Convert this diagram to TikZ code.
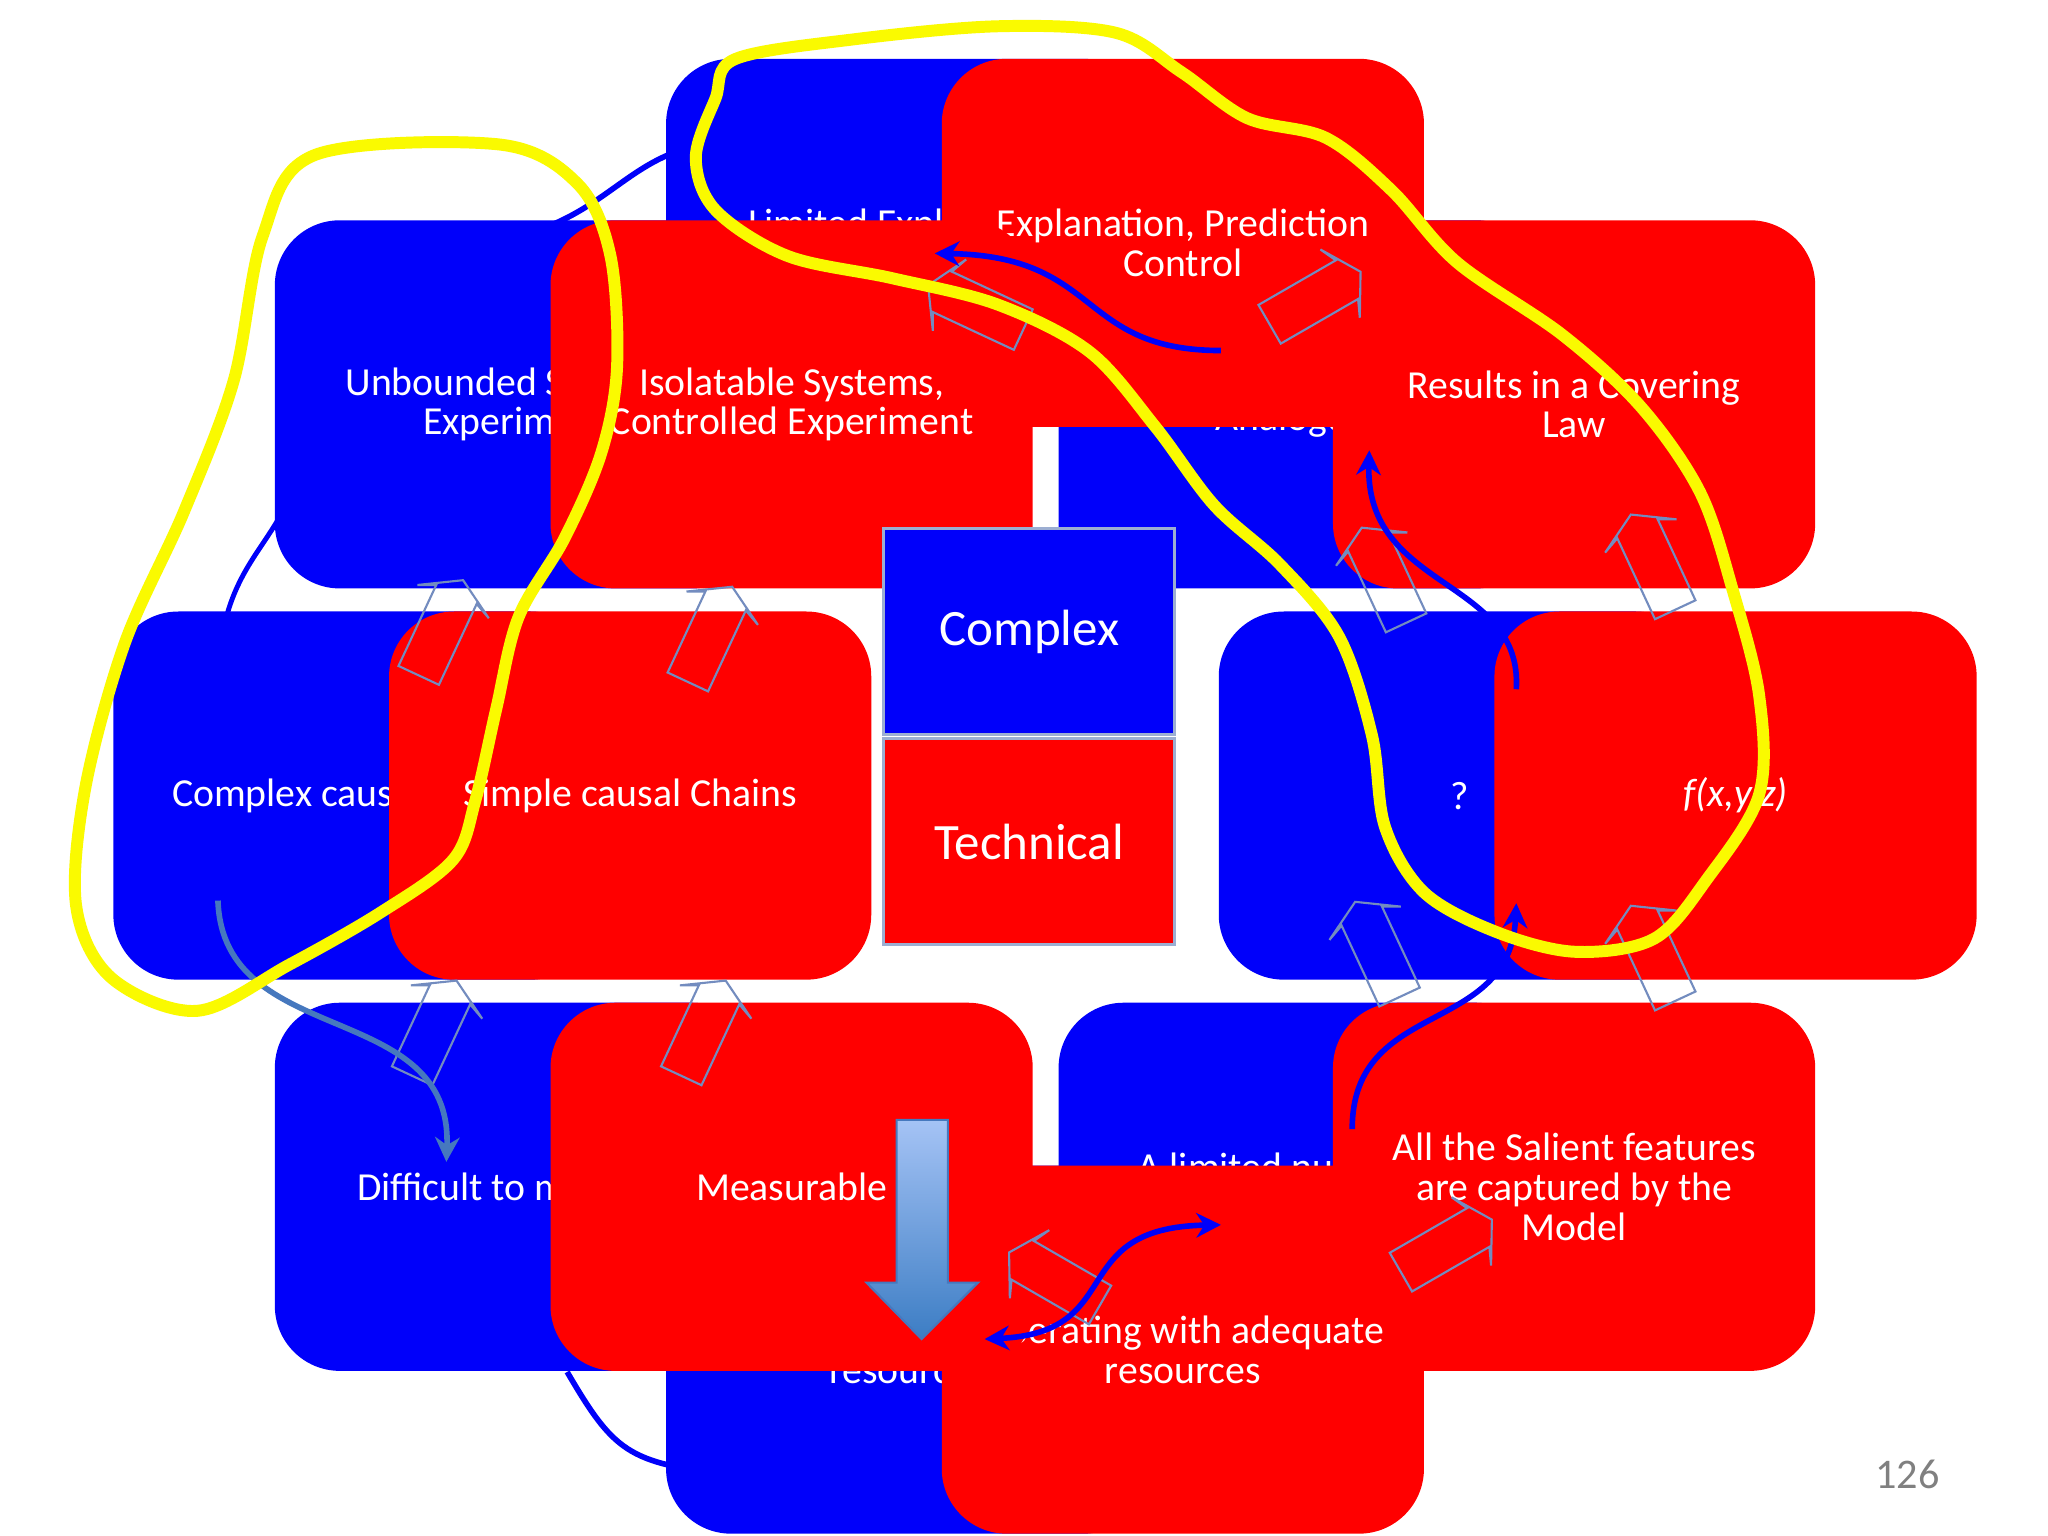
\documentclass[tikz,border=0pt]{standalone}
\usepackage{fontspec}
\setmainfont{Carlito}
\usetikzlibrary{arrows.meta}
\definecolor{bx}{RGB}{0,0,250}
\definecolor{rx}{RGB}{255,0,0}
\definecolor{ol}{RGB}{90,120,180}
\definecolor{yl}{RGB}{250,250,0}
\tikzset{
 box/.style={minimum width=4.82cm,minimum height=3.68cm,rounded corners=0.65cm,text=white,align=center,font=\fontsize{11.3}{11.3}\selectfont,inner sep=0pt},
 bbox/.style={box,fill=bx},
 rbox/.style={box,fill=rx},
 txt/.style={text=white,align=center,font=\fontsize{11.3}{11.3}\selectfont,inner sep=0pt},
 sq/.style={minimum width=2.91cm,minimum height=2.06cm,draw=ol!60,line width=0.8pt,text=white,font=\fontsize{14.5}{16}\selectfont,inner sep=0pt},
 con/.style={draw=bx,line width=1.6pt,-{Stealth[length=7pt,width=7pt]}},
 outl/.style={draw=ol!85,line width=0.6pt},
 loop/.style={draw=yl,line width=3.4pt,line join=round},
}
\begin{document}
\begin{tikzpicture}[x=0.013128cm,y=-0.013128cm]
\useasboundingbox[fill=white] (0,0) rectangle (1560,1170);
% bottom-right blue, bottom pair, bottom-right red
\node[bbox] (brb) at (990,904) {A limited number of\\ \phantom{x}};
\node[rbox] (brr) at (1199,904) {};
\node[bbox] (bb) at (691,1028) {Operating with limited\\resources};
\node[rbox] (br) at (901,1028) {Operating with adequate\\resources};
\node[txt] (brrt) at (brr.center) {All the Salient features\\are captured by the\\Model};
% bottom-left pair
\node[bbox] (blb) at (393,904) {Difficult to measure};
\node[rbox] (blr) at (603,904) {Measurable};
% middle pairs
\node[bbox] (mlb) at (270,606) {Complex causal Chains};
\node[rbox] (mlr) at (480,606) {Simple causal Chains};
\node[bbox] (mrb) at (1112,606) {?};
\node[rbox] (mrr) at (1322,606) {\itshape f(x,y,z)};
% top-right blue, top pair, top-right red
\node[bbox] (trb) at (990,308) {\phantom{x}\\Analogues};
\node[bbox] (tb) at (691,185) {Limited Explanation\\\phantom{x}};
\node[rbox] (tr) at (901,185) {};
\node[rbox] (trr) at (1199,308) {Results in a Covering\\Law};
\node[txt] (trt) at (tr.center) {Explanation, Prediction\\Control};
% top-left pair
\node[bbox] (tlb) at (393,308) {Unbounded Systems,\\Experiment};
\node[rbox] (tlr) at (603,308) {Isolatable Systems,\\Controlled Experiment};
% centre squares
\node[sq,fill=bx] (cx) at (784,481) {Complex};
\node[sq,fill=rx] (tc) at (784,641) {Technical};
% arrow outlines
\foreach \x/\y/\r in {335/480/-25,540/485/-25,745/235/65,1000/228/-60,1055/440/25,1260/430/25,1050/725/25,1260/728/25,330/785/-25,535/785/-25,805/975/60,1100/950/-60}{
 \draw[outl,shift={(\x,\y)},rotate=\r] (-17,38)--(-17,-30)--(-30,-24)--(0,-42)--(30,-24)--(17,-30)--(17,38)--cycle;
}
% down block arrow
\shade[top color={rgb,255:red,165;green,195;blue,245},bottom color={rgb,255:red,60;green,125;blue,196},draw={rgb,255:red,70;green,120;blue,190},line width=0.6pt]
 (683,853)--(722,853)--(722,977)--(745,977)--(702,1020)--(660,977)--(683,977)--cycle;
% connectors
\coordinate (c1a) at (930,267); \coordinate (c1b) at (712,193);
\draw[con] (c1a) .. controls (820,267) and (840,195) .. (c1b);
\coordinate (c2a) at (1155,525); \coordinate (c2b) at (1043,343);
\draw[con] (c2a) .. controls (1160,440) and (1040,450) .. (c2b);
\coordinate (c3a) at (1030,860); \coordinate (c3b) at (1155,688);
\draw[con] (c3a) .. controls (1030,760) and (1150,790) .. (c3b);
\coordinate (c4a) at (750,1020); \coordinate (c4b) at (930,933);
\draw[con,{Stealth[length=7pt,width=7pt]}-{Stealth[length=7pt,width=7pt]}] (c4a) .. controls (860,1015) and (810,935) .. (c4b);
\coordinate (c5a) at (166,686); \coordinate (c5b) at (340,885);
\draw[con,draw={rgb,255:red,70;green,120;blue,190}] (c5a) .. controls (170,800) and (345,760) .. (c5b);
\coordinate (c6a) at (570,110); \coordinate (c6b) at (345,185);
\draw[draw=bx,line width=1.6pt] (c6a) .. controls (470,100) and (470,185) .. (c6b);
\coordinate (c7a) at (232,320); \coordinate (c7b) at (166,525);
\draw[draw=bx,line width=1.4pt] (c7a) .. controls (230,420) and (166,410) .. (c7b);
\coordinate (c8a) at (432,1045); \coordinate (c8b) at (570,1125);
\draw[draw=bx,line width=1.6pt] (c8a) .. controls (470,1110) and (480,1115) .. (c8b);
% yellow loops
\draw[loop] plot[smooth cycle,tension=0.55] coordinates {(240,118) (380,110) (440,140) (465,195) (470,280) (458,345) (430,410) (395,470) (378,540) (362,610) (345,655) (290,695) (220,735) (150,770) (85,745) (58,690) (65,600) (95,490) (140,390) (178,290) (200,180)};
\draw[loop] plot[smooth cycle,tension=0.55] coordinates {(560,45) (650,30) (760,20) (850,25) (900,55) (950,90) (1010,105) (1060,145) (1110,200) (1190,255) (1250,310) (1295,375) (1320,450) (1340,530) (1340,605) (1300,670) (1260,715) (1200,725) (1140,710) (1085,680) (1055,630) (1045,560) (1020,485) (975,430) (925,385) (880,325) (830,268) (760,232) (680,212) (600,195) (545,160) (530,120) (545,75)};
\node[text=gray,font=\fontsize{12}{14}\selectfont] (pg) at (1453,1123) {126};
\end{tikzpicture}
\end{document}
